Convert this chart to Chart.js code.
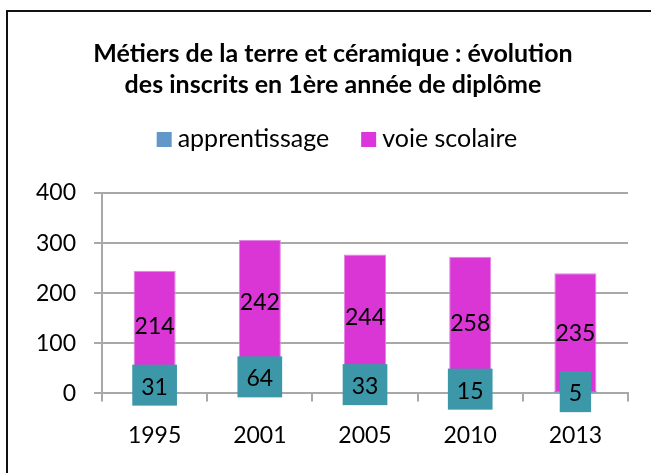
<!DOCTYPE html>
<html>
<head>
<meta charset="utf-8">
<script src="https://cdn.jsdelivr.net/npm/chart.js@4/dist/chart.umd.min.js"></script>
<style>
    html, body { margin: 0; padding: 0; background: #fff; overflow: hidden; }
    #wrap { position: relative; width: 651px; height: 473px; }
    #frame {
        position: absolute; left: 6px; top: 10px; width: 700px; height: 520px;
        border: 2px solid #111; pointer-events: none;
    }
</style>
</head>
<body>
<div id="wrap">
    <canvas id="chart" width="651" height="473"></canvas>
    <div id="frame"></div>
</div>
<script>
const years = ['1995', '2001', '2005', '2010', '2013'];
const apprentissage = [31, 64, 33, 15, 5];
const voieScolaire = [214, 242, 244, 258, 235];
const yTicks = [0, 100, 200, 300, 400];

const FONT = 'Lato, "Open Sans", sans-serif';

// value labels: boxed teal for apprentissage, plain text for voie scolaire
const valueLabels = {
    id: 'valueLabels',
    afterDatasetsDraw(chart) {
        const ctx = chart.ctx;
        ctx.save();
        ctx.font = '23px ' + FONT;
        ctx.textAlign = 'center';
        ctx.textBaseline = 'middle';
        chart.data.datasets.forEach((ds, di) => {
            const meta = chart.getDatasetMeta(di);
            meta.data.forEach((bar, i) => {
                const p = bar.getProps(['x', 'y', 'base'], true);
                const cy = (p.y + p.base) / 2;
                const txt = String(ds.data[i]);
                if (di === 0) {
                    const w = ctx.measureText(txt).width + 18;
                    const h = 41;
                    ctx.fillStyle = '#3c97a9';
                    ctx.fillRect(p.x - w / 2, cy - h / 2, w, h);
                }
                ctx.fillStyle = '#000';
                ctx.fillText(txt, p.x, cy + 2);
            });
        });
        ctx.restore();
    }
};

// legend row drawn by hand: tight gap between swatch and text
const legendRow = {
    id: 'legendRow',
    afterDraw(chart) {
        const ctx = chart.ctx;
        const items = chart.data.datasets.map(ds => ({ text: ds.label, color: ds.legendColor || ds.backgroundColor }));
        const box = 15, gap = 6, spacing = 32, centerX = 337, boxTop = 132;
        ctx.save();
        ctx.font = '25px ' + FONT;
        ctx.textBaseline = 'alphabetic';
        ctx.textAlign = 'left';
        const widths = items.map(it => box + gap + ctx.measureText(it.text).width);
        const total = widths.reduce((a, b) => a + b, 0) + spacing * (items.length - 1);
        let x = centerX - total / 2;
        items.forEach((it, i) => {
            ctx.fillStyle = it.color;
            ctx.fillRect(x, boxTop, box, box);
            ctx.fillStyle = '#000';
            ctx.fillText(it.text, x + box + gap, boxTop + box);
            x += widths[i] + spacing;
        });
        ctx.restore();
    }
};

// nudge the title block a little to the right
const titleShift = {
    id: 'titleShift',
    afterLayout(chart) {
        if (chart.titleBlock) {
            chart.titleBlock.left += 10;
            chart.titleBlock.right += 10;
        }
    }
};

new Chart(document.getElementById('chart'), {
    type: 'bar',
    data: {
        labels: years,
        datasets: [
            {
                label: 'apprentissage',
                data: apprentissage,
                backgroundColor: '#6497c9',
                categoryPercentage: 1,
                barPercentage: 0.4
            },
            {
                label: 'voie scolaire',
                data: voieScolaire,
                backgroundColor: '#d936d5',
                legendColor: '#dc35dc',
                borderColor: '#e585e2',
                borderWidth: 1,
                categoryPercentage: 1,
                barPercentage: 0.4
            }
        ]
    },
    options: {
        responsive: false,
        animation: false,
        layout: { padding: { left: 18, right: 23, top: 0, bottom: 4 } },
        scales: {
            x: {
                stacked: true,
                grid: { display: true, drawOnChartArea: false, tickLength: 8, color: '#a8a8a8', lineWidth: 2 },
                border: { display: true, color: '#a8a8a8', width: 2 },
                ticks: { color: '#000', padding: 20, font: { family: FONT, size: 23 } }
            },
            y: {
                stacked: true,
                min: 0,
                max: 400,
                afterBuildTicks(axis) {
                    axis.ticks = yTicks.map(v => ({ value: v }));
                },
                grid: { color: '#a8a8a8', lineWidth: 2, tickLength: 8 },
                border: { display: true, color: '#a8a8a8', width: 2 },
                ticks: { color: '#000', padding: 18, font: { family: FONT, size: 23 } }
            }
        },
        plugins: {
            title: {
                display: true,
                text: ['Métiers de la terre et céramique : évolution', 'des inscrits en 1ère année de diplôme'],
                color: '#000',
                font: { family: FONT, size: 25, weight: 'bold', lineHeight: 1.24 },
                padding: { top: 38, bottom: 93 }
            },
            legend: { display: false },
            tooltip: { enabled: false }
        }
    },
    plugins: [valueLabels, legendRow, titleShift]
});
</script>
</body>
</html>
